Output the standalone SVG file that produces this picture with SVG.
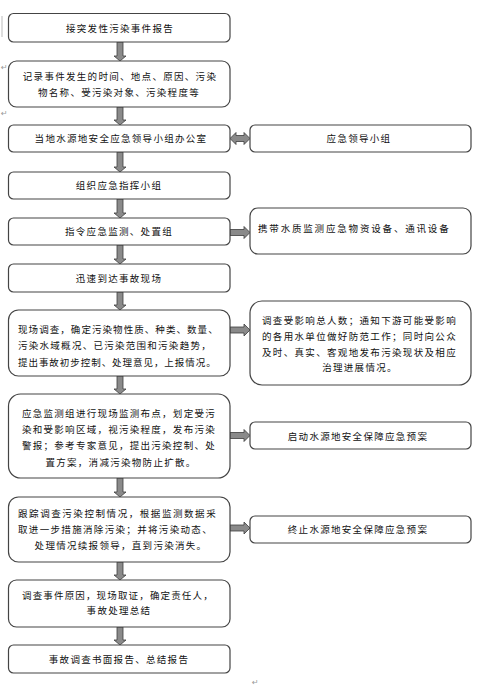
<svg xmlns="http://www.w3.org/2000/svg" width="478" height="687" viewBox="0 0 478 687">
<style>
.box{fill:#fff;stroke:#444;stroke-width:1.2}
.t{font-family:"Noto Sans CJK SC","Noto Sans CJK JP",sans-serif;font-size:9.5px;letter-spacing:1.3px;fill:#111}
.c{text-anchor:middle}
.arr{fill:#8a8a8a;stroke:#3c3c3c;stroke-width:0.8}
.mk{font-family:"DejaVu Sans",sans-serif;font-size:8px;fill:#999}
</style>
<rect width="478" height="687" fill="#fff"/>
<g id="marks">
<line x1="2" y1="16" x2="2" y2="37" stroke="#bbb" stroke-width="1"/>
<text class="mk" x="1" y="70">↵</text>
<text class="mk" x="1" y="116">↵</text>
<text class="mk" x="252" y="685">↵</text>
</g>
<g id="connectors">
<path class="arr" d="M117,42 h6 V56 h3 L120,61 L114,56 h3 Z"/>
<path class="arr" d="M117,107 h6 V120 h3 L120,125 L114,120 h3 Z"/>
<path class="arr" d="M117,152 h6 V167 h3 L120,172 L114,167 h3 Z"/>
<path class="arr" d="M117,199 h6 V213 h3 L120,218 L114,213 h3 Z"/>
<path class="arr" d="M117,245 h6 V259 h3 L120,264 L114,259 h3 Z"/>
<path class="arr" d="M117,292 h6 V305 h3 L120,310 L114,305 h3 Z"/>
<path class="arr" d="M117,376 h6 V389 h3 L120,394 L114,389 h3 Z"/>
<path class="arr" d="M117,478 h6 V492 h3 L120,497 L114,492 h3 Z"/>
<path class="arr" d="M117,562 h6 V575 h3 L120,580 L114,575 h3 Z"/>
<path class="arr" d="M117,627 h6 V640 h3 L120,645 L114,640 h3 Z"/>
<path class="arr" d="M230,138.5 L236,132.5 V135.5 H244 V132.5 L250,138.5 L244,144.5 V141.5 H236 V144.5 Z"/>
<path class="arr" d="M230,229.5 H244 V226.5 L250,232.5 L244,238.5 V235.5 H230 Z"/>
<path class="arr" d="M230,327 H244 V324 L250,330 L244,336 V333 H230 Z"/>
<path class="arr" d="M230,432.5 H244 V429.5 L250,435.5 L244,441.5 V438.5 H230 Z"/>
<path class="arr" d="M230,525 H244 V522 L250,528 L244,534 V531 H230 Z"/>
</g>
<g id="n1">
<rect class="box" x="8.5" y="13.5" width="221.5" height="28.5" rx="5"/>
<text class="t c" x="120" y="31.5">接突发性污染事件报告</text>
</g>
<g id="n2">
<rect class="box" x="8.5" y="61" width="221.5" height="46" rx="8"/>
<text class="t c" x="120" y="79.5">记录事件发生的时间、地点、原因、污染</text>
<text class="t c" x="119" y="95.5">物名称、受污染对象、污染程度等</text>
</g>
<g id="n3">
<rect class="box" x="8.5" y="125" width="221.5" height="27" rx="5"/>
<text class="t c" x="121" y="142">当地水源地安全应急领导小组办公室</text>
</g>
<g id="n3r">
<rect class="box" x="250" y="125" width="221" height="27" rx="5"/>
<text class="t c" x="359" y="142">应急领导小组</text>
</g>
<g id="n4">
<rect class="box" x="8.5" y="172" width="221.5" height="27" rx="5"/>
<text class="t c" x="119" y="189">组织应急指挥小组</text>
</g>
<g id="n5">
<rect class="box" x="8.5" y="218" width="221.5" height="27" rx="5"/>
<text class="t c" x="119" y="235">指令应急监测、处置组</text>
</g>
<g id="n5r">
<rect class="box" x="250" y="208" width="221" height="46" rx="8"/>
<text class="t" x="258" y="231.5" textLength="192" lengthAdjust="spacing">携带水质监测应急物资设备、通讯设备</text>
</g>
<g id="n6">
<rect class="box" x="8.5" y="264" width="221.5" height="28" rx="5"/>
<text class="t c" x="119" y="281.5">迅速到达事故现场</text>
</g>
<g id="n7">
<rect class="box" x="8.5" y="310" width="221.5" height="66" rx="10"/>
<text class="t" x="18" y="332.5" textLength="201" lengthAdjust="spacing">现场调查，确定污染物性质、种类、数量、</text>
<text class="t" x="18" y="349" textLength="194" lengthAdjust="spacing">污染水域概况、已污染范围和污染趋势，</text>
<text class="t" x="18" y="365.5" textLength="199" lengthAdjust="spacing">提出事故初步控制、处理意见，上报情况。</text>
</g>
<g id="n7r">
<rect class="box" x="250" y="301" width="221" height="84" rx="12"/>
<text class="t" x="262" y="323.5" textLength="195" lengthAdjust="spacing">调查受影响总人数；通知下游可能受影响</text>
<text class="t" x="262" y="339.5" textLength="195" lengthAdjust="spacing">的各用水单位做好防范工作；同时向公众</text>
<text class="t" x="262" y="355.5" textLength="195" lengthAdjust="spacing">及时、真实、客观地发布污染现状及相应</text>
<text class="t c" x="360" y="371">治理进展情况。</text>
</g>
<g id="n8">
<rect class="box" x="8.5" y="394" width="221.5" height="84" rx="12"/>
<text class="t" x="22" y="416.5" textLength="194" lengthAdjust="spacing">应急监测组进行现场监测布点，划定受污</text>
<text class="t" x="22" y="433" textLength="194" lengthAdjust="spacing">染和受影响区域，视污染程度，发布污染</text>
<text class="t" x="22" y="449" textLength="194" lengthAdjust="spacing">警报；参考专家意见，提出污染控制、处</text>
<text class="t c" x="121" y="465.5">置方案，消减污染物防止扩散。</text>
</g>
<g id="n8r">
<rect class="box" x="250" y="422" width="221" height="27" rx="5"/>
<text class="t c" x="358" y="439.5">启动水源地安全保障应急预案</text>
</g>
<g id="n9">
<rect class="box" x="8.5" y="497" width="221.5" height="65" rx="10"/>
<text class="t" x="18" y="516.5" textLength="199" lengthAdjust="spacing">跟踪调查污染控制情况，根据监测数据采</text>
<text class="t" x="18" y="532.5" textLength="195" lengthAdjust="spacing">取进一步措施消除污染；并将污染动态、</text>
<text class="t c" x="121" y="549">处理情况续报领导，直到污染消失。</text>
</g>
<g id="n9r">
<rect class="box" x="250" y="516" width="221" height="27" rx="5"/>
<text class="t c" x="358" y="533">终止水源地安全保障应急预案</text>
</g>
<g id="n10">
<rect class="box" x="8.5" y="580" width="221.5" height="47" rx="8"/>
<text class="t" x="22" y="598.5" textLength="192" lengthAdjust="spacing">调查事件原因，现场取证，确定责任人，</text>
<text class="t c" x="119" y="614">事故处理总结</text>
</g>
<g id="n11">
<rect class="box" x="8.5" y="645" width="221.5" height="28" rx="5"/>
<text class="t c" x="119" y="662.5">事故调查书面报告、总结报告</text>
</g>
</svg>
